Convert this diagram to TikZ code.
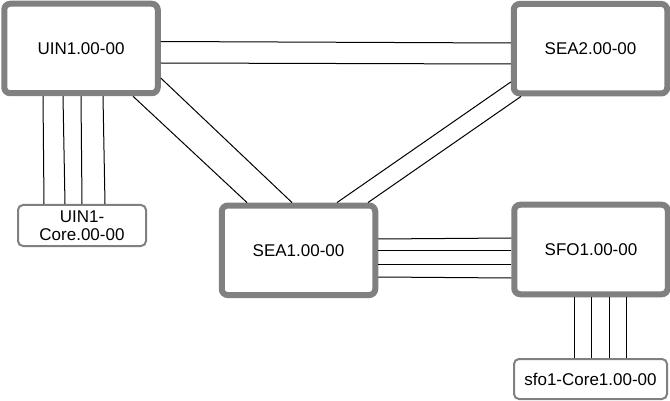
\documentclass[tikz,border=0pt]{standalone}
\usepackage{fontspec}
\setmainfont{Liberation Sans}
\usetikzlibrary{calc}
\definecolor{boxgray}{HTML}{808080}
\tikzset{
  bigbox/.style={draw=boxgray, line width=6pt, rounded corners=6pt, fill=white,
    minimum width=153.5pt, minimum height=89.5pt, inner sep=0pt,
    font=\fontsize{17}{18.5}\selectfont},
  corebox/.style={draw=boxgray, line width=2pt, rounded corners=5pt, fill=white,
    inner sep=0pt, align=center, font=\fontsize{17}{18.5}\selectfont},
  link/.style={draw=black, line width=1pt}
}
\begin{document}
\begin{tikzpicture}[x=1pt,y=-1pt]
\useasboundingbox (0,0) rectangle (670,401);
\node[bigbox] (uin) at (81,48.5) {UIN1.00-00};
\node[bigbox] (sea2) at (590.5,48.7) {SEA2.00-00};
\node[bigbox] (sea1) at (298.5,250.3) {SEA1.00-00};
\node[bigbox] (sfo1) at (591,249.5) {SFO1.00-00};
\node[corebox, minimum width=128pt, minimum height=41pt] (uincore) at (82,225.5) {UIN1-\\Core.00-00};
\node[corebox, minimum width=153pt, minimum height=40pt] (sfocore) at (590.5,379) {sfo1-Core1.00-00};

% UIN1 -- SEA2
\draw[link] ($(uin.east)+(0,-7)$) -- ($(sea2.west)+(0,-5.7)$);
\draw[link] ($(uin.east)+(0,14.5)$) -- ($(sea2.west)+(0,15.3)$);
% UIN1 -- SEA1
\draw[link] ($(uin.east)+(0,29.5)$) -- ($(sea1.north)+(-6.5,0)$);
\draw[link] ($(uin.south)+(52,0)$) -- ($(sea1.north)+(-51.5,0)$);
% SEA2 -- SEA1
\draw[link] ($(sea2.west)+(0,33.3)$) -- ($(sea1.north)+(38.5,0)$);
\draw[link] ($(sea2.south)+(-69.5,0)$) -- ($(sea1.north)+(69.5,0)$);
% UIN1 -- UIN1-Core
\foreach \a/\b in {-38/-38,-18/-17,0/0,22/23}
  \draw[link] ($(uin.south)+(\a,0)$) -- ($(uincore.north)+(\b,0)$);
% SEA1 -- SFO1
\foreach \a/\b in {-11.3/-11.5,-0.3/0.5,13.7/14.5,26.7/28.5}
  \draw[link] ($(sea1.east)+(0,\a)$) -- ($(sfo1.west)+(0,\b)$);
% SFO1 -- sfo1-Core1
\foreach \a/\b in {-17/-16.5,0/0.5,18/18.5,35/35.5}
  \draw[link] ($(sfo1.south)+(\a,0)$) -- ($(sfocore.north)+(\b,0)$);
\end{tikzpicture}
\end{document}
